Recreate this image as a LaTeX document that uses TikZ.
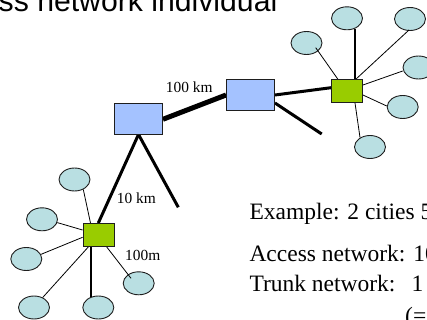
\documentclass[tikz,border=0pt]{standalone}
\usepackage{fontspec}
\setmainfont{Liberation Serif}
\newfontfamily\headfont{Liberation Sans}
\usetikzlibrary{shapes.geometric,calc}

\definecolor{hubblue}{RGB}{164,194,255}
\definecolor{switchgreen}{RGB}{153,204,0}
\definecolor{userfill}{RGB}{185,223,226}
\definecolor{outline}{RGB}{30,30,30}

\tikzset{
  exchange/.style={draw=outline, line width=0.9pt, fill=hubblue, minimum width=48pt, minimum height=31pt, inner sep=0pt},
  concentrator/.style={draw=outline, line width=0.9pt, fill=switchgreen, minimum width=31pt, minimum height=23pt, inner sep=0pt},
  user/.style={ellipse, draw=outline, line width=0.9pt, fill=userfill, minimum width=31pt, minimum height=23pt, inner sep=0pt},
  drop/.style={line width=0.8pt, black},
  dropthick/.style={line width=2pt, black},
  feeder/.style={line width=3pt, black},
  trunk/.style={line width=5pt, black},
  dist/.style={font=\fontsize{15.4}{18}\selectfont, inner sep=0pt, anchor=base west},
  note/.style={font=\fontsize{23.5}{28}\selectfont, inner sep=0pt, anchor=base west},
}

\begin{document}
\begin{tikzpicture}[x=1pt,y=-1pt]
\useasboundingbox (0,0) rectangle (427,320);
\clip (0,0) rectangle (427,320);

% heading, running past the top edge
\node[inner sep=0pt, anchor=base west, font=\headfont\fontsize{30.2}{33}\selectfont] (head) at (-1.5,12) {ss network individual};

% subscriber terminals around the upper concentrator
\node[user] (e1) at (306.5,43) {};
\node[user] (e2) at (347,18.3) {};
\node[user] (e3) at (410,19) {};
\node[user] (e4) at (418.5,67.5) {};
\node[user] (e5) at (402.7,107) {};
\node[user] (e6) at (370,147) {};

% subscriber terminals around the lower concentrator
\node[user] (f1) at (74.5,179.5) {};
\node[user] (f2) at (42,219.3) {};
\node[user] (f3) at (26.3,259) {};
\node[user] (f4) at (138.7,283.3) {};
\node[user] (f5) at (34,307.5) {};
\node[user] (f6) at (98.3,307.5) {};

% node positions for exchanges and concentrators
\coordinate (pA) at (138.5,118.5);
\coordinate (pB) at (250.5,95);
\coordinate (pG1) at (347,91);
\coordinate (pG2) at (98.5,235);
\coordinate (openB) at (321.7,134);
\coordinate (openA) at (178.3,207.3);

% invisible placeholders so connectors can refer to the boxes by name
\node[exchange, draw=none, fill=none] (A) at (pA) {};
\node[exchange, draw=none, fill=none] (B) at (pB) {};
\node[concentrator, draw=none, fill=none] (g1) at (pG1) {};
\node[concentrator, draw=none, fill=none] (g2) at (pG2) {};

% trunk and feeder lines
\draw[trunk] ($(A.east)+(0,0.8)$) -- (B.west);
\draw[feeder] (B.east) -- ($(g1.west)+(0,-3.3)$);
\draw[feeder] ($(B.east)+(0,8)$) -- (openB);
\draw[feeder] (A.south) -- ($(g2.north)+(-0.2,0)$);
\draw[feeder] (A.south) -- (openA);

% drop lines, upper cluster
\draw[drop] ($(g1.north west)+(6.7,0)$) -- ($(e1.center)+(9.2,4.7)$);
\draw[dropthick] ($(g1.north)+(8,0)$) -- ($(e2.center)+(8,10.4)$);
\draw[drop] ($(g1.north)+(9,0)$) -- ($(e3.center)+(-1,11)$);
\draw[drop] ($(g1.east)+(0,-6)$) -- ($(e4.center)+(-15.8,3.5)$);
\draw[drop] ($(g1.east)+(0,4)$) -- ($(e5.center)+(-16,-1)$);
\draw[drop] ($(g1.south)+(8,0)$) -- ($(e6.center)+(-10,-9.5)$);

% drop lines, lower cluster
\draw[drop] ($(g2.north)+(-8,0)$) -- ($(f1.center)+(8.8,10)$);
\draw[drop] ($(g2.west)+(0,-5)$) -- ($(f2.center)+(15.3,3.3)$);
\draw[drop] ($(g2.west)+(0,2.3)$) -- ($(f3.center)+(14.8,-4.7)$);
\draw[drop] ($(g2.south)+(8.2,0)$) -- ($(f4.center)+(-7.7,-5)$);
\draw[drop] ($(g2.south)+(-10.2,0)$) -- ($(f5.center)+(8.7,-10)$);
\draw[dropthick] ($(g2.south)+(-7.8,0)$) -- ($(f6.center)+(-7.6,-10.5)$);

% exchanges and concentrators on top of the lines
\node[exchange] at (pA) {};
\node[exchange] at (pB) {};
\node[concentrator] at (pG1) {};
\node[concentrator] at (pG2) {};

% distance labels
\node[dist] (d100km) at (165.7,92.3) {100 km};
\node[dist] (d10km) at (116.7,203.3) {10 km};
\node[dist] (d100m) at (125,260) {100m};

% example text
\node[note] (ex) at (249.3,219) {Example: 2 cities 5};
\node[note] (acc) at (249.3,261.7) {Access network: 10};
\node[note] (trk) at (249.3,291) {Trunk network:\hspace{16pt}1};
\node[note] (eq) at (405,323) {(=};
\end{tikzpicture}
\end{document}
